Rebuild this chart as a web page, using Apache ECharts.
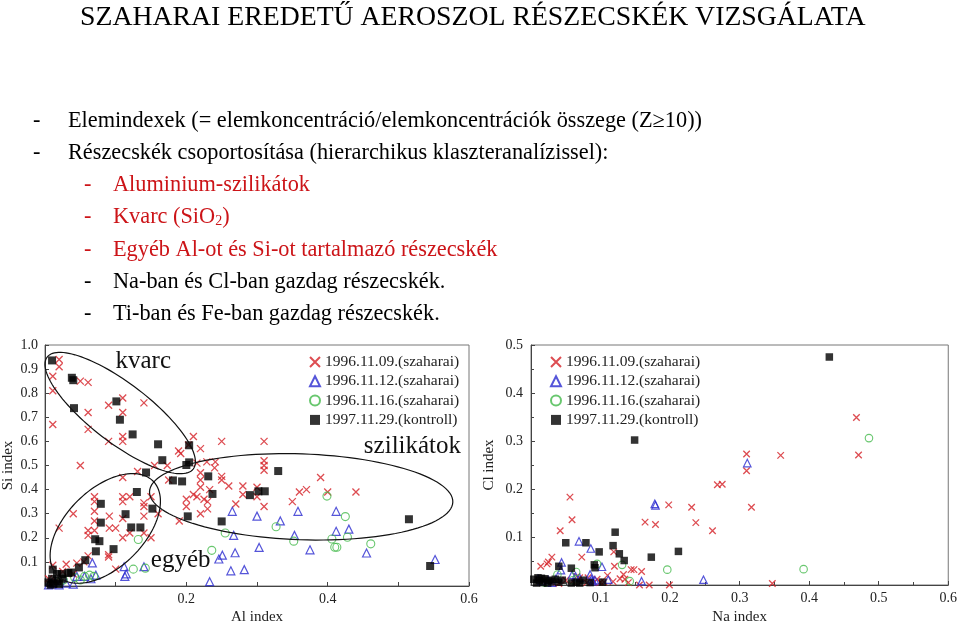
<!DOCTYPE html>
<html><head><meta charset="utf-8">
<script src="https://cdn.jsdelivr.net/npm/echarts/dist/echarts.min.js"></script>
<style>html,body{margin:0;padding:0;background:#fff}#c{width:960px;height:626px}</style>
</head><body><div id="c"></div>
<script>
// ---------- text ----------
const titleText = 'SZAHARAI EREDETŰ AEROSZOL RÉSZECSKÉK VIZSGÁLATA';
const bulletLines = [
  {lvl:0, red:false, text:'Elemindexek (= elemkoncentráció/elemkoncentrációk összege (Z≥10))'},
  {lvl:0, red:false, text:'Részecskék csoportosítása (hierarchikus klaszteranalízissel):'},
  {lvl:1, red:true,  text:'Aluminium-szilikátok'},
  {lvl:1, red:true,  text:'{a|Kvarc (SiO}{s|2}{a|)}'},
  {lvl:1, red:true,  text:'Egyéb Al-ot és Si-ot tartalmazó részecskék'},
  {lvl:1, red:false, text:'Na-ban és Cl-ban gazdag részecskék.'},
  {lvl:1, red:false, text:'Ti-ban és Fe-ban gazdag részecskék.'}
];
const seriesNames = ['1996.11.09.(szaharai)','1996.11.12.(szaharai)','1996.11.16.(szaharai)','1997.11.29.(kontroll)'];
const leftAxisNames = ['Al index','Si index'];
const rightAxisNames = ['Na index','Cl index'];
const clusterLabels = ['kvarc','szilikátok','egyéb'];
const clusterLabelPos = [[0.139,0.93],[0.52,0.579],[0.192,0.106]];

// ---------- data: Al index vs Si index ----------
const alSi_0911 = [[0.020,0.94],[0.020,0.91],[0.011,0.87],[0.011,0.81],[0.011,0.67],[0.050,0.85],[0.061,0.845],[0.061,0.72],[0.061,0.65],[0.050,0.50],[0.090,0.75],[0.110,0.78],[0.110,0.72],[0.110,0.62],[0.110,0.60],[0.140,0.76],[0.090,0.60],[0.189,0.56],[0.192,0.55],[0.203,0.585],[0.210,0.62],[0.220,0.57],[0.250,0.60],[0.173,0.50],
[0.215,0.51],[0.229,0.515],[0.241,0.515],[0.24,0.49],[0.25,0.455],[0.25,0.44],[0.22,0.47],[0.22,0.44],[0.22,0.41],[0.21,0.38],[0.215,0.37],[0.20,0.36],[0.225,0.36],[0.23,0.35],[0.233,0.40],[0.26,0.415],[0.28,0.415],[0.28,0.38],[0.30,0.37],[0.20,0.33],[0.19,0.27],[0.22,0.30],[0.23,0.32],[0.27,0.34],[0.175,0.44],[0.155,0.50],[0.131,0.475],
[0.31,0.60],[0.31,0.52],[0.31,0.50],[0.31,0.48],[0.30,0.41],[0.31,0.33],[0.35,0.35],[0.36,0.39],[0.37,0.40],[0.39,0.45],[0.40,0.39],[0.44,0.39],
[0.04,0.30],[0.02,0.24],[0.07,0.37],[0.07,0.35],[0.07,0.31],[0.07,0.27],[0.07,0.23],[0.061,0.23],[0.061,0.21],[0.091,0.29],[0.091,0.24],[0.10,0.24],[0.11,0.37],[0.12,0.37],[0.11,0.35],[0.11,0.45],[0.11,0.28],[0.11,0.20],[0.09,0.13],[0.09,0.12],[0.061,0.125],[0.12,0.22],[0.14,0.33],[0.14,0.345],[0.14,0.29],[0.14,0.22],[0.15,0.20],[0.15,0.37],[0.16,0.30],
[0.011,0.086],[0.03,0.09],[0.045,0.095],[0.055,0.10],[0.005,0.03],[0.015,0.02],[0.04,0.05],[0.10,0.07],[0.025,0.06]];
const alSi_1112 = [[0.30,0.29],[0.333,0.27],[0.358,0.31],[0.412,0.31],[0.43,0.236],[0.412,0.227],[0.353,0.21],[0.303,0.16],[0.375,0.15],[0.455,0.137],[0.552,0.11],[0.282,0.068],[0.265,0.31],[0.267,0.21],[0.251,0.128],[0.246,0.112],[0.269,0.138],[0.263,0.063],[0.233,0.018],[0.067,0.096],[0.056,0.04],[0.065,0.03],[0.072,0.045],[0.045,0.04],[0.01,0.01],[0.03,0.012],[0.04,0.008],[0.112,0.08],[0.115,0.05],[0.113,0.04],[0.14,0.08],[0.005,0.005],[0.015,0.015],[0.02,0.005]];
const alSi_1116 = [[0.399,0.373],[0.425,0.288],[0.327,0.246],[0.406,0.195],[0.428,0.202],[0.352,0.186],[0.41,0.161],[0.413,0.161],[0.461,0.175],[0.255,0.22],[0.236,0.148],[0.132,0.193],[0.125,0.07],[0.142,0.074],[0.042,0.035],[0.056,0.04],[0.063,0.045],[0.069,0.04],[0.050,0.025],[0.026,0.025],[0.020,0.015]];
const alSi_1129 = [[0.010,0.936],[0.038,0.864],[0.040,0.854],[0.041,0.738],[0.101,0.766],[0.106,0.69],[0.124,0.629],[0.16,0.588],[0.204,0.584],[0.166,0.522],[0.20,0.502],[0.204,0.513],[0.143,0.471],[0.181,0.438],[0.194,0.434],[0.13,0.39],[0.231,0.455],[0.237,0.382],[0.152,0.321],[0.114,0.298],[0.202,0.289],[0.079,0.341],[0.122,0.243],[0.135,0.243],[0.079,0.263],[0.071,0.194],[0.077,0.186],[0.097,0.153],[0.072,0.144],[0.057,0.107],[0.048,0.077],[0.25,0.268],[0.011,0.068],[0.33,0.477],[0.29,0.377],[0.302,0.393],[0.311,0.393],[0.515,0.277],[0.545,0.083],
[0.017,0.050],[0.024,0.049],[0.033,0.054],[0.037,0.056],[0.010,0.030],[0.005,0.015],[0.012,0.010],[0.018,0.020],[0.025,0.030],[0.008,0.005],[0.020,0.008]];

// ---------- data: Na index vs Cl index ----------
const naCl_0911 = [[0.056,0.183],[0.059,0.136],[0.042,0.113],[0.030,0.058],[0.025,0.048],[0.023,0.044],[0.014,0.039],[0.073,0.058],[0.119,0.069],[0.120,0.039],[0.164,0.131],[0.179,0.126],[0.198,0.167],[0.231,0.162],[0.237,0.130],[0.261,0.113],[0.268,0.209],[0.275,0.210],[0.144,0.032],[0.148,0.032],[0.159,0.028],[0.133,0.022],[0.128,0.013],[0.118,0.007],[0.100,0.006],[0.090,0.005],[0.199,0.000],[0.170,0.000],[0.156,0.000],[0.070,0.015],[0.066,0.018],[0.082,0.015],[0.468,0.349],[0.471,0.271],[0.359,0.270],[0.310,0.273],[0.310,0.238],[0.317,0.162],[0.347,0.003],[0.020,0.010],[0.030,0.005],[0.040,0.003],[0.050,0.010],[0.060,0.008],[0.080,0.005],[0.095,0.012],[0.105,0.006],[0.110,0.020],[0.135,0.012],[0.140,0.005]];
const naCl_1112 = [[0.178,0.169],[0.179,0.166],[0.069,0.091],[0.086,0.076],[0.102,0.038],[0.044,0.047],[0.043,0.031],[0.059,0.021],[0.064,0.018],[0.036,0.013],[0.070,0.015],[0.085,0.022],[0.087,0.012],[0.089,0.008],[0.092,0.010],[0.111,0.011],[0.159,0.008],[0.248,0.011],[0.311,0.254],[0.010,0.013],[0.015,0.008],[0.025,0.010],[0.030,0.005]];
const naCl_1116 = [[0.095,0.044],[0.131,0.042],[0.196,0.032],[0.142,0.008],[0.065,0.027],[0.038,0.022],[0.486,0.306],[0.392,0.033],[0.060,0.010],[0.020,0.005]];
const naCl_1129 = [[0.149,0.302],[0.050,0.088],[0.079,0.088],[0.121,0.110],[0.118,0.082],[0.127,0.065],[0.134,0.051],[0.098,0.069],[0.173,0.058],[0.212,0.070],[0.040,0.039],[0.058,0.035],[0.091,0.042],[0.092,0.036],[0.103,0.006],[0.070,0.004],[0.429,0.475],
[0.004,0.012],[0.010,0.015],[0.015,0.014],[0.020,0.013],[0.025,0.010],[0.030,0.008],[0.035,0.012],[0.008,0.004],[0.017,0.005],[0.024,0.004],[0.040,0.006],[0.058,0.004],[0.012,0.009],[0.045,0.010],[0.065,0.006],[0.075,0.010],[0.085,0.005]];

// cluster ellipses (data coords: centre, two conjugate half-axis vectors)
const ellipses = [
  {c:[0.1064,0.7177], u:[0.1033,-0.2324], v:[-0.0257,-0.0970]},
  {c:[0.3625,0.3700], u:[0.2146,-0.0218], v:[-0.0021,-0.1780]},
  {c:[0.0853,0.2389], u:[0.0675,0.1968], v:[0.0392,-0.1142]}
];

const FONT = '"Liberation Serif","Times New Roman",serif';
const RED = '#d42127', BLUE = '#2a2ad0', GREEN = '#43b94b', BLACK = '#000';
const CROSS = 'path://M0 0L10 10M10 0L0 10';
const styles = [
  {symbol:CROSS, size:7, itemStyle:{color:'rgba(0,0,0,0)', borderColor:RED, borderWidth:1.3}},
  {symbol:'triangle', size:8, itemStyle:{color:'rgba(255,255,255,0)', borderColor:BLUE, borderWidth:1.2}},
  {symbol:'circle', size:8, itemStyle:{color:'rgba(255,255,255,0)', borderColor:GREEN, borderWidth:1.1}},
  {symbol:'rect', size:8, itemStyle:{color:BLACK}}
];
const leftData = [alSi_0911, alSi_1112, alSi_1116, alSi_1129];
const rightData = [naCl_0911, naCl_1112, naCl_1116, naCl_1129];

const series = [];
[leftData, rightData].forEach((set, gi) => {
  set.forEach((d, i) => {
    series.push({
      type:'scatter', name:seriesNames[i], xAxisIndex:gi, yAxisIndex:gi, data:d,
      symbol:styles[i].symbol, symbolSize: gi === 0 ? styles[i].size : styles[i].size - 0.5,
      itemStyle:styles[i].itemStyle, clip:false, silent:true, z: 2 + i
    });
  });
});

const axisCommon = {
  type:'value',
  axisLine:{show:true, lineStyle:{color:'#444', width:1}},
  axisTick:{show:true, inside:true, length:4, lineStyle:{color:'#444'}},
  splitLine:{show:false},
  nameLocation:'middle',
  nameTextStyle:{fontFamily:FONT, fontSize:15, color:'#222'},
  axisLabel:{fontFamily:FONT, fontSize:14, color:'#222'}
};
function fmtPos(v){ return v > 1e-9 ? v.toFixed(1) : ''; }
function fmtEven(v){ const k = Math.round(v*10); return (k > 0 && k % 2 === 0) ? v.toFixed(1) : ''; }

const legendCommon = {
  orient:'vertical', itemGap:3.3, itemWidth:10, itemHeight:10,
  textStyle:{fontFamily:FONT, fontSize:15.5, color:'#222', lineHeight:16},
  data:seriesNames, selectedMode:false
};

const chart = echarts.init(document.getElementById('c'), null, {renderer:'canvas'});
chart.setOption({
  backgroundColor:'#fff',
  animation:false,
  grid:[
    {left:42, top:345, width:427, height:244, show:true, borderColor:'#777', borderWidth:1},
    {left:531, top:345, width:420, height:240, show:true, borderColor:'#777', borderWidth:1}
  ],
  xAxis:[
    Object.assign({}, axisCommon, {gridIndex:0, min:0, max:0.6, interval:0.1, name:leftAxisNames[0], nameGap:24,
      axisLabel:Object.assign({}, axisCommon.axisLabel, {formatter:fmtEven, margin:6})}),
    Object.assign({}, axisCommon, {gridIndex:1, min:0, max:0.6, interval:0.1, name:rightAxisNames[0], nameGap:25,
      minorTick:{show:true, splitNumber:2, length:3, lineStyle:{color:'#444'}},
      axisLabel:Object.assign({}, axisCommon.axisLabel, {formatter:fmtPos, margin:6})})
  ],
  yAxis:[
    Object.assign({}, axisCommon, {gridIndex:0, min:0, max:1, interval:0.1, name:leftAxisNames[1], nameGap:29,
      axisLabel:Object.assign({}, axisCommon.axisLabel, {formatter:fmtPos, margin:7})}),
    Object.assign({}, axisCommon, {gridIndex:1, min:0, max:0.5, interval:0.1, name:rightAxisNames[1], nameGap:34,
      minorTick:{show:true, splitNumber:2, length:3, lineStyle:{color:'#444'}},
      axisLabel:Object.assign({}, axisCommon.axisLabel, {formatter:fmtPos, margin:8})})
  ],
  legend:[
    Object.assign({}, legendCommon, {left:304, top:349}),
    Object.assign({}, legendCommon, {left:545, top:349})
  ],
  series:series
});

// ---------- graphics: slide text, ellipses, cluster labels ----------
const g = [];
g.push({type:'text', id:'title', x:80, y:18, silent:true,
  style:{text:titleText, font:'27.75px ' + FONT, fill:'#000', align:'left', verticalAlign:'middle'}});
const lineY = [121,153,185,217,250,282,314];
bulletLines.forEach((b, i) => {
  const col = b.red ? '#cc1418' : '#000';
  const dashX = b.lvl === 0 ? 33 : 84;
  const textX = b.lvl === 0 ? 68 : 113;
  g.push({type:'text', id:'d'+i, x:dashX, y:lineY[i], silent:true,
    style:{text:'-', font:'22.3px ' + FONT, fill:col, align:'left', verticalAlign:'middle'}});
  const st = {text:b.text, font:'22.3px ' + FONT, fill:col, align:'left', verticalAlign:'middle'};
  if (b.text.indexOf('{') >= 0) {
    st.rich = {
      a:{fontFamily:FONT, fontSize:22.3, color:col, lineHeight:26},
      s:{fontFamily:FONT, fontSize:14, color:col, lineHeight:26, padding:[9,0,0,0]}
    };
  }
  g.push({type:'text', id:'b'+i, x:textX, y:lineY[i], silent:true, style:st});
});
ellipses.forEach((e, k) => {
  const pts = [];
  for (let i = 0; i < 120; i++) {
    const t = i / 120 * Math.PI * 2;
    const d = [e.c[0] + Math.cos(t)*e.u[0] + Math.sin(t)*e.v[0], e.c[1] + Math.cos(t)*e.u[1] + Math.sin(t)*e.v[1]];
    pts.push(chart.convertToPixel({gridIndex:0}, d));
  }
  g.push({type:'polygon', id:'e'+k, silent:true, z:20, shape:{points:pts},
    style:{fill:'none', stroke:'#111', lineWidth:1.2}});
});
clusterLabels.forEach((t, k) => {
  const p = chart.convertToPixel({gridIndex:0}, clusterLabelPos[k]);
  g.push({type:'text', id:'cl'+k, x:p[0], y:p[1], silent:true, z:21,
    style:{text:t, font:'25px ' + FONT, fill:'#111', align:'center', verticalAlign:'middle'}});
});
chart.setOption({graphic:g});
</script></body></html>
